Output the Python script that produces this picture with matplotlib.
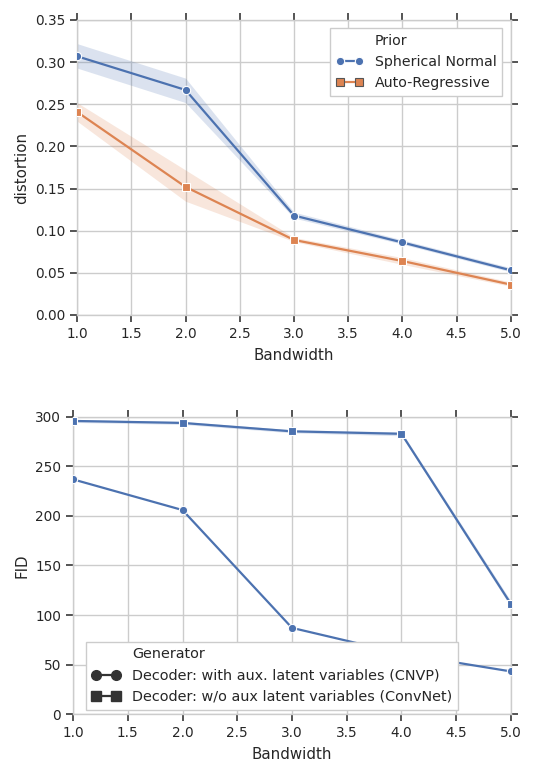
import numpy as np
import matplotlib
matplotlib.use("Agg")
import matplotlib.pyplot as plt
from matplotlib.lines import Line2D

# distortion vs bandwidth, per prior
bandwidth = [1.0, 2.0, 3.0, 4.0, 5.0]
sn_mean = [0.307, 0.267, 0.118, 0.086, 0.053]
sn_low = [0.293, 0.252, 0.115, 0.084, 0.051]
sn_high = [0.322, 0.281, 0.122, 0.089, 0.056]
ar_mean = [0.241, 0.152, 0.089, 0.064, 0.036]
ar_low = [0.230, 0.135, 0.087, 0.060, 0.034]
ar_high = [0.252, 0.172, 0.092, 0.068, 0.039]

# FID vs bandwidth, per generator
cnvp_fid = [237, 206, 87, 61, 43]
convnet_fid = [296, 294, 285.5, 283, 111]
convnet_low = [294.5, 292.5, 284, 281, 108]
convnet_high = [297.5, 295.5, 287, 285, 114]

blue = "#4C72B0"
orange = "#DD8452"
grey = ".15"

plt.rcParams.update({
    "font.family": ["DejaVu Sans"],
    "font.size": 9.8,
    "text.color": grey,
    "axes.labelcolor": grey,
    "xtick.color": grey,
    "ytick.color": grey,
    "axes.edgecolor": ".8",
    "grid.color": ".8",
    "xtick.direction": "out",
    "ytick.direction": "out",
    "xtick.major.size": 5,
    "ytick.major.size": 5,
})

fig = plt.figure(figsize=(5.33, 7.63), dpi=100)
ax1 = fig.add_axes([0.1445, 0.5872, 0.8142, 0.3866])
ax2 = fig.add_axes([0.137, 0.0642, 0.8217, 0.3893])


def style_axes(ax):
    ax.grid(True, linewidth=1)
    ax.set_axisbelow(True)
    ax.tick_params(top=True, right=True, labeltop=False, labelright=False,
                   width=1.1, color=grey, labelsize=9.8)
    ax.set_xticks(np.arange(1.0, 5.01, 0.5))
    ax.set_xlim(1.0, 5.0)
    for s in ax.spines.values():
        s.set_linewidth(1)


# top panel
ax1.fill_between(bandwidth, sn_low, sn_high, color=blue, alpha=0.2, linewidth=0)
ax1.fill_between(bandwidth, ar_low, ar_high, color=orange, alpha=0.2, linewidth=0)
ax1.plot(bandwidth, sn_mean, color=blue, lw=1.6, marker="o", ms=6,
         mec="white", mew=0.8, zorder=3)
ax1.plot(bandwidth, ar_mean, color=orange, lw=1.6, marker="s", ms=6,
         mec="white", mew=0.8, zorder=3)
style_axes(ax1)
ax1.set_ylim(0, 0.35)
ax1.set_yticks(np.arange(0, 0.351, 0.05))
ax1.set_yticklabels([f"{v:.2f}" for v in np.arange(0, 0.351, 0.05)])
ax1.set_xlabel("Bandwidth", fontsize=10.8, labelpad=5)
ax1.set_ylabel("distortion", fontsize=10.8)

h1 = [Line2D([], [], linestyle="none"),
      Line2D([], [], color=blue, lw=1.6, marker="o", ms=6, mec="white", mew=0.8),
      Line2D([], [], color=orange, lw=1.6, marker="s", ms=6, mec="#555555", mew=0.8)]
leg1 = ax1.legend(h1, ["Prior", "Spherical Normal", "Auto-Regressive"],
                  loc="upper right", numpoints=2, fancybox=False,
                  edgecolor=".8", framealpha=1, fontsize=10.2,
                  borderaxespad=0.6, handlelength=2.0, handletextpad=0.8)

# bottom panel
ax2.fill_between(bandwidth, convnet_low, convnet_high, color=blue, alpha=0.2, linewidth=0)
ax2.plot(bandwidth, cnvp_fid, color=blue, lw=1.6, marker="o", ms=6,
         mec="white", mew=0.8, zorder=3)
ax2.plot(bandwidth, convnet_fid, color=blue, lw=1.6, marker="s", ms=6,
         mec="white", mew=0.8, zorder=3)
style_axes(ax2)
ax2.set_ylim(0, 300)
ax2.set_yticks(np.arange(0, 301, 50))
ax2.set_xlabel("Bandwidth", fontsize=10.8, labelpad=5)
ax2.set_ylabel("FID", fontsize=10.8)

h2 = [Line2D([], [], linestyle="none"),
      Line2D([], [], color="#333333", lw=1.6, marker="o", ms=7, mec="#333333"),
      Line2D([], [], color="#333333", lw=1.6, marker="s", ms=7, mec="#333333")]
leg2 = ax2.legend(h2, ["Generator", "Decoder: with aux. latent variables (CNVP)",
                       "Decoder: w/o aux latent variables (ConvNet)"],
                  loc="lower left", bbox_to_anchor=(0.02, 0.0), numpoints=2,
                  fancybox=False, edgecolor=".8", framealpha=1, fontsize=10.4,
                  borderaxespad=0.3, handlelength=2.0, handletextpad=0.8)
leg2.set_zorder(5)

fig.savefig("out.png", dpi=100)
